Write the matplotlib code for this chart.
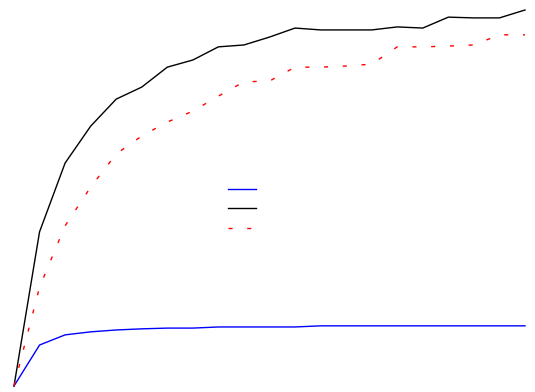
import matplotlib
matplotlib.use("Agg")
import matplotlib.pyplot as plt
import numpy as np

epochs = list(range(21))
series_blue = [0.0, 0.109, 0.136, 0.144, 0.149, 0.152, 0.154, 0.154, 0.157, 0.157, 0.157,
               0.157, 0.160, 0.160, 0.160, 0.160, 0.160, 0.160, 0.160, 0.160, 0.160]
series_black = [0.0, 0.410, 0.593, 0.691, 0.763, 0.795, 0.848, 0.867, 0.902, 0.907, 0.928,
                0.952, 0.947, 0.947, 0.947, 0.955, 0.952, 0.981, 0.979, 0.979, 1.000]
series_red = [0.0, 0.263, 0.426, 0.529, 0.617, 0.665, 0.702, 0.731, 0.771, 0.809, 0.811,
              0.848, 0.848, 0.851, 0.856, 0.902, 0.902, 0.904, 0.907, 0.934, 0.934]
legend_labels = ["", "", ""]

W, H = 535, 392
fig = plt.figure(figsize=(W / 100, H / 100), dpi=100)
ax = fig.add_axes([14 / W, 6 / H, 511 / W, 376 / H])
ax.set_xlim(0, 20)
ax.set_ylim(0, 1)
ax.axis("off")

l1, = ax.plot(epochs, series_blue, color="blue", lw=1.0, clip_on=False)
l2, = ax.plot(epochs, series_black, color="black", lw=1.0, clip_on=False)
l3, = ax.plot(epochs, series_red, color="red", lw=1.0,
              linestyle=(0, (2.9, 10.6)), clip_on=False)

ax.legend([l1, l2, l3], legend_labels, frameon=False, loc="center left",
          bbox_to_anchor=((228 - 14) / 511 - 0.024, (386 - 209) / 376),
          handlelength=2.0, labelspacing=0.4)

fig.savefig("out.png", dpi=100)
